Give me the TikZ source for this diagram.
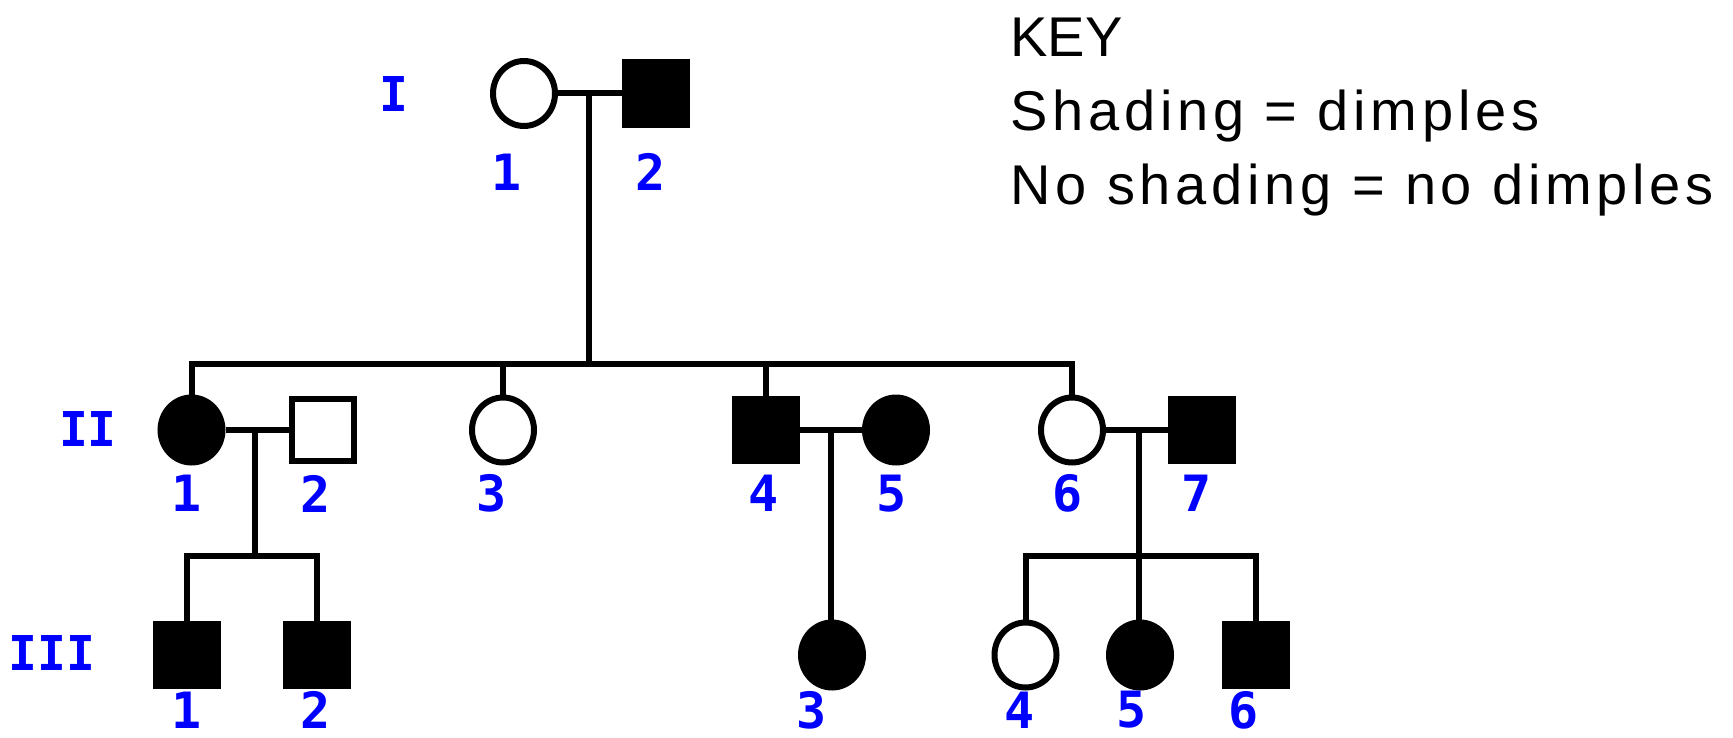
\documentclass[tikz,border=0pt]{standalone}
\usepackage{fontspec}
\usetikzlibrary{shapes.geometric}
\newfontfamily\keyfont{Liberation Sans}
\newfontfamily\keywidefont{Liberation Sans}[LetterSpace=8.5]
\newfontfamily\numfont{DejaVu Sans Mono}
\begin{document}
\begin{tikzpicture}[x=0.5pt,y=-0.5pt,
  person/.style={draw=black, line width=3pt, inner sep=0pt},
  female/.style={person, ellipse, minimum width=31pt, minimum height=32.5pt},
  male/.style={person, rectangle, minimum size=31pt},
  aff/.style={fill=black},
  unaff/.style={fill=white},
  link/.style={line width=3pt},
  genlabel/.style={text=blue, inner sep=0pt, font=\numfont\bfseries\fontsize{24}{24}\selectfont},
  idlabel/.style={text=blue, inner sep=0pt, font=\numfont\bfseries\fontsize{25}{25}\selectfont},
  keytext/.style={inner sep=0pt, anchor=base west, font=\keyfont\fontsize{28}{28}\selectfont},
  keyline/.style={keytext, font=\keywidefont\fontsize{28}{28}\selectfont}]
\useasboundingbox (0,0) rectangle (1733,738);

% ---- generation I ----
\node[female, unaff] (I1) at (524,93.5) {};
\node[male, aff]     (I2) at (655.5,93.5) {};

% ---- generation II ----
\node[female, aff]   (II1) at (191.5,430) {};
\node[male, unaff]   (II2) at (323,430) {};
\node[female, unaff] (II3) at (503,430) {};
\node[male, aff]     (II4) at (766,430) {};
\node[female, aff]   (II5) at (896,430) {};
\node[female, unaff] (II6) at (1072,430) {};
\node[male, aff]     (II7) at (1201.5,430) {};

% ---- generation III ----
\node[male, aff]     (III1) at (187,655) {};
\node[male, aff]     (III2) at (317,655) {};
\node[female, aff]   (III3) at (832,655) {};
\node[female, unaff] (III4) at (1025.5,655) {};
\node[female, aff]   (III5) at (1140,655) {};
\node[male, aff]     (III6) at (1255.5,655) {};

% ---- helper points: descent starts and sibship bars ----
\coordinate (mI)    at (589,93.5);
\coordinate (sibII) at (589,364);
\coordinate (mA)    at (255,431);
\coordinate (barA)  at (255,556);
\coordinate (mB)    at (831,431);
\coordinate (mC)    at (1139,431);
\coordinate (barC)  at (1139,556);

% ---- matings ----
\draw[link] (I1.east) -- (I2.west);
\draw[link] (II1.east) -- (II2.west);
\draw[link] (II4.east) -- (II5.west);
\draw[link] (II6.east) -- (II7.west);

% ---- offspring of I-1 x I-2 ----
\draw[link] (mI) -- (sibII);
\draw[link] (II1.north) -- (II1.north |- sibII) -- (II6.north |- sibII) -- (II6.north);
\draw[link] (II3.north) -- (II3.north |- sibII);
\draw[link] (II4.north) -- (II4.north |- sibII);

% ---- offspring of II-1 x II-2 ----
\draw[link] (mA) -- (barA);
\draw[link] (III1.north) -- (III1.north |- barA) -- (III2.north |- barA) -- (III2.north);

% ---- offspring of II-4 x II-5 ----
\draw[link] (mB) -- (mB |- III3.north);

% ---- offspring of II-6 x II-7 ----
\draw[link] (mC) -- (mC |- III5.north);
\draw[link] (III4.north) -- (III4.north |- barC) -- (III6.north |- barC) -- (III6.north);

% ---- generation numerals ----
\node[genlabel] (genI)   at (394,94)  {I};
\node[genlabel] (genII)  at (88,429)  {II};
\node[genlabel] (genIII) at (52,653)  {III};

% ---- individual numbers ----
\node[idlabel] (nI1) at (507,172) {1};
\node[idlabel] (nI2) at (651,172) {2};

\node[idlabel] (nII1) at (187,493.5) {1};
\node[idlabel] (nII2) at (316,493.5) {2};
\node[idlabel] (nII3) at (492,493.5) {3};
\node[idlabel] (nII4) at (764,493.5) {4};
\node[idlabel] (nII5) at (892,493.5) {5};
\node[idlabel] (nII6) at (1068,493.5) {6};
\node[idlabel] (nII7) at (1197,493.5) {7};

\node[idlabel] (nIII1) at (187,710) {1};
\node[idlabel] (nIII2) at (316,710) {2};
\node[idlabel] (nIII3) at (812,710) {3};
\node[idlabel] (nIII4) at (1020,710) {4};
\node[idlabel] (nIII5) at (1132,710) {5};
\node[idlabel] (nIII6) at (1244,710) {6};

% ---- key ----
\node[keytext] (keyhead)  at (1010,57)  {KEY};
\node[keyline] (keyshade) at (1010,131) {Shading = dimples};
\node[keyline] (keyplain) at (1010,204) {No shading = no dimples};
\end{tikzpicture}
\end{document}
